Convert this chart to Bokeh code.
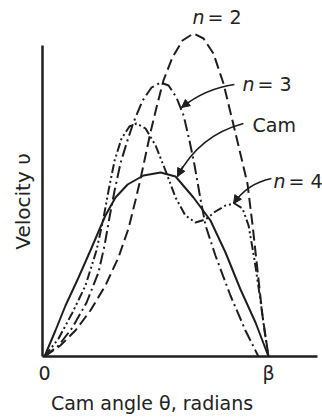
from bokeh.plotting import figure
from bokeh.models import Range1d, FixedTicker, Arrow, NormalHead, LinearAxis
from bokeh.core.properties import value
from bokeh.embed import file_html
from bokeh.resources import INLINE

# ---- data: cam angle as fraction of beta, velocity in arbitrary units ----
cam_theta = [0, 0.049, 0.094, 0.152, 0.205, 0.272, 0.317, 0.371, 0.442, 0.518,
             0.585, 0.665, 0.741, 0.808, 0.875, 0.942, 1.0]
cam_v = [0, 0.26, 0.51, 0.79, 1.06, 1.41, 1.59, 1.72, 1.81, 1.84,
         1.80, 1.59, 1.36, 1.04, 0.67, 0.34, 0]

n2_theta = [0, 0.071, 0.138, 0.205, 0.272, 0.330, 0.375, 0.406, 0.429, 0.451,
            0.473, 0.500, 0.531, 0.571, 0.616, 0.665, 0.710, 0.754, 0.799, 0.853,
            0.906, 0.929, 0.951, 0.973, 1.0]
n2_v = [0, 0.11, 0.26, 0.46, 0.71, 0.99, 1.28, 1.56, 1.78, 2.01,
        2.24, 2.49, 2.76, 2.99, 3.16, 3.23, 3.18, 3.03, 2.73, 2.23,
        1.73, 1.31, 0.86, 0.41, 0]

n3_theta = [0, 0.063, 0.125, 0.188, 0.241, 0.268, 0.290, 0.313, 0.339, 0.366,
            0.397, 0.438, 0.478, 0.518, 0.554, 0.589, 0.621, 0.647, 0.670, 0.696,
            0.719, 0.763, 0.830, 0.897, 0.955]
n3_v = [0, 0.11, 0.29, 0.54, 0.84, 1.11, 1.39, 1.66, 1.93, 2.13,
        2.34, 2.56, 2.69, 2.74, 2.71, 2.59, 2.41, 2.16, 1.91, 1.58,
        1.31, 1.01, 0.61, 0.26, 0]

n4_theta = [0, 0.063, 0.125, 0.183, 0.232, 0.263, 0.286, 0.313, 0.344, 0.379,
            0.411, 0.451, 0.496, 0.540, 0.585, 0.629, 0.674, 0.719, 0.763, 0.808,
            0.848, 0.884, 0.911, 0.938, 0.964, 0.982, 1.0]
n4_v = [0, 0.18, 0.44, 0.71, 1.06, 1.38, 1.66, 1.96, 2.18, 2.30,
        2.33, 2.28, 2.11, 1.86, 1.59, 1.41, 1.34, 1.37, 1.45, 1.51,
        1.53, 1.48, 1.31, 0.96, 0.56, 0.26, 0]

tick_values = [0, 1]
tick_labels = ["0", "β"]
x_title = "Cam angle θ, radians"
y_title = "Velocity υ"
x_title_at = 0.48
y_title_at = 1.55

# callouts: italic part, rest, positions
callout_italic = ["n", "n", "", "n"]
callout_rest = ["= 2", "= 3", "Cam", "= 4"]
callout_x_italic = [0.661, 0.884, 0.0, 1.022]
callout_x_rest = [0.728, 0.951, 0.929, 1.089]
callout_y = [3.40, 2.73, 2.32, 1.76]

# leader curves (start, control, end)
leader_x0 = [0.848, 0.888, 1.013]
leader_y0 = [2.72, 2.33, 1.78]
leader_cx = [0.719, 0.688, 0.906]
leader_cy = [2.68, 2.21, 1.73]
leader_x1 = [0.612, 0.594, 0.844]
leader_y1 = [2.49, 1.80, 1.53]

FONT = "DejaVu Sans"
INK = "#1e1e1e"
TXT = "#222222"

p = figure(width=322, height=419,
           x_range=Range1d(-0.0089, 1.241), y_range=Range1d(0, 3.56),
           output_backend="svg", toolbar_location=None,
           min_border_left=42, min_border_right=0, min_border_top=0,
           min_border_bottom=63)
p.grid.visible = False
p.outline_line_color = None
p.background_fill_color = "white"
p.border_fill_color = "white"

# main axes
xa = p.xaxis[0]
xa.ticker = FixedTicker(ticks=tick_values)
xa.major_label_overrides = {t: l for t, l in zip(tick_values, tick_labels)}
xa.major_tick_line_color = None
xa.minor_tick_line_color = None
xa.major_tick_out = 0
xa.major_tick_in = 0
xa.axis_line_width = 2.5
xa.axis_line_color = INK
xa.bounds = (-0.0089, 1.219)
xa.major_label_text_font = FONT
xa.major_label_text_font_size = "19px"
xa.major_label_text_color = TXT
xa.major_label_standoff = 5

ya = p.yaxis[0]
ya.ticker = FixedTicker(ticks=[])
ya.major_tick_line_color = None
ya.minor_tick_line_color = None
ya.major_tick_out = 0
ya.major_tick_in = 0
ya.major_label_standoff = 0
ya.major_label_text_font_size = "0px"
ya.axis_line_width = 2.5
ya.axis_line_color = INK
ya.bounds = (0, 3.11)

# title axes (outer)
xt = LinearAxis(ticker=FixedTicker(ticks=[x_title_at]),
                major_label_overrides={x_title_at: x_title},
                axis_line_color=None, major_tick_line_color=None,
                minor_tick_line_color=None, major_tick_out=0, major_tick_in=0,
                major_label_standoff=5, major_label_text_font=FONT,
                major_label_text_font_size="19px", major_label_text_color=TXT)
p.add_layout(xt, "below")

yt = LinearAxis(ticker=FixedTicker(ticks=[y_title_at]),
                major_label_overrides={y_title_at: y_title},
                major_label_orientation="vertical",
                axis_line_color=None, major_tick_line_color=None,
                minor_tick_line_color=None, major_tick_out=0, major_tick_in=0,
                major_label_standoff=8, major_label_text_font=FONT,
                major_label_text_font_size="20px", major_label_text_color=TXT)
p.add_layout(yt, "left")

# curves
p.line(cam_theta, cam_v, line_color=INK, line_width=2)
p.line(n2_theta, n2_v, line_color=INK, line_width=2, line_dash="11 5")
p.line(n3_theta, n3_v, line_color=INK, line_width=2, line_dash="12 4 2 4")
p.line(n4_theta, n4_v, line_color=INK, line_width=2, line_dash="9 3 2 3 2 3")

# leader curves with arrow heads
p.quadratic(x0=leader_x0, y0=leader_y0, x1=leader_x1, y1=leader_y1,
            cx=leader_cx, cy=leader_cy, line_color=INK, line_width=1.6)
for x1, y1, cx, cy in zip(leader_x1, leader_y1, leader_cx, leader_cy):
    xs = x1 + 0.25 * (cx - x1)
    ys = y1 + 0.25 * (cy - y1)
    p.add_layout(Arrow(x_start=xs, y_start=ys, x_end=x1, y_end=y1,
                       line_color=INK, line_width=1.5,
                       end=NormalHead(size=8, fill_color=INK, line_color=INK)))

# callout texts
for it, rest, xi, xr, y in zip(callout_italic, callout_rest, callout_x_italic,
                               callout_x_rest, callout_y):
    if it:
        p.text(x=[xi], y=[y], text=[it], text_font=value(FONT),
               text_font_style="italic", text_font_size="19px",
               text_color=TXT, text_baseline="middle", text_align="left")
    p.text(x=[xr], y=[y], text=[rest], text_font=value(FONT),
           text_font_size="19px", text_color=TXT,
           text_baseline="middle", text_align="left")

open("out.html", "w").write(file_html(p, INLINE))
